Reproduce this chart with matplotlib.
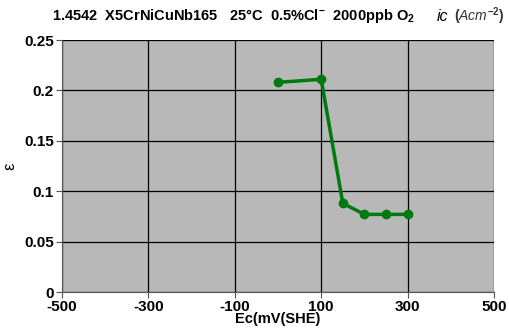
import matplotlib.pyplot as plt

plt.rcParams['font.family'] = ['Liberation Sans', 'DejaVu Sans']
plt.rcParams['axes.unicode_minus'] = False
plt.rcParams['mathtext.fontset'] = 'custom'
plt.rcParams['mathtext.rm'] = 'Liberation Sans:bold'
plt.rcParams['mathtext.it'] = 'Liberation Sans:italic'

Ec = [0, 100, 150, 200, 250, 300]
eps = [0.208, 0.211, 0.088, 0.077, 0.077, 0.077]
xticks = [-500, -300, -100, 100, 300, 500]
yticks = [0, 0.05, 0.1, 0.15, 0.2, 0.25]
ylabels = ['0', '0.05', '0.1', '0.15', '0.2', '0.25']

fig = plt.figure(figsize=(5.09, 3.35), dpi=100)
ax = fig.add_axes([62/509, 43/335, 432/509, 252/335])
ax.set_facecolor('#b8b8b8')
ax.plot(Ec, eps, color='#007a10', lw=2.5, marker='o', ms=6)
ax.set_xlim(-500, 500)
ax.set_ylim(0, 0.25)
ax.set_xticks(xticks)
ax.set_yticks(yticks)
ax.set_yticklabels(ylabels)
ax.grid(True, color='black', lw=0.9)
ax.set_axisbelow(True)
for s in ['top', 'right']:
  ax.spines[s].set_visible(False)
ax.spines['left'].set_color('#555555')
ax.spines['bottom'].set_color('#555555')
ax.tick_params(labelsize=11, length=4, color='#555555', pad=2)
for l in ax.get_xticklabels() + ax.get_yticklabels():
  l.set_fontweight('bold')
ax.set_xlabel('Ec(mV(SHE)', fontsize=10.5, fontweight='bold', labelpad=-2)
ax.set_ylabel('ε', fontsize=12, labelpad=5)
fig.text(52/509, 0.952, r'1.4542  X5CrNiCuNb165   25°C  0.5%Cl$^{-}$  2000ppb O$_{2}$',
         fontsize=10.5, fontweight='bold', ha='left', va='center')
fig.text(437/509, 0.952, 'ic', fontsize=11.5, style='italic', ha='left', va='center')
fig.text(454/509, 0.952, r'$\mathit{(Acm^{-2})}$', fontsize=10, color='#333333',
         ha='left', va='center')
fig.savefig('out.png', dpi=100)
